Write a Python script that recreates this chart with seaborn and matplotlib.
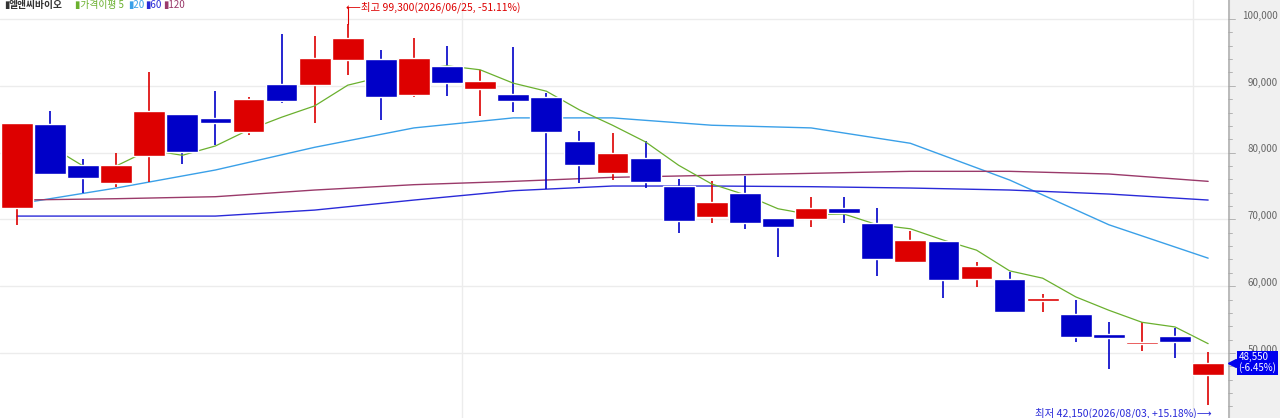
import numpy as np
import pandas as pd
import matplotlib
matplotlib.use('Agg')
import matplotlib.pyplot as plt
import seaborn as sns

# daily candles
opens = [71700, 84300, 78100, 75400, 79500, 85800, 85200, 83100, 90300, 90100,
         93900, 94000, 88600, 93000, 89500, 88800, 88300, 81700, 77000, 79200,
         75000, 70400, 74000, 70200, 70100, 71700, 69500, 63600, 66800, 61100,
         61100, 57800, 55800, 52800, 51400, 52500, 46700]
closes = [84400, 76800, 76200, 78100, 86200, 80100, 84500, 88000, 87700, 94100,
          97200, 88300, 94200, 90400, 90700, 87700, 83100, 78100, 80000, 75600,
          69800, 72600, 69500, 68900, 71700, 71000, 64100, 66900, 60900, 63000,
          56100, 58200, 52400, 52200, 51600, 51700, 48550]
highs = [84400, 86200, 79000, 79900, 92100, 85800, 89200, 88300, 97800, 97400,
         99300, 95400, 97200, 96000, 92400, 95800, 88900, 83200, 82900, 81700,
         76000, 75700, 76500, 70200, 73300, 73300, 71700, 68300, 66800, 63600,
         62100, 58800, 57900, 54700, 54700, 53700, 50200]
lows = [69200, 76600, 74000, 74900, 75600, 78300, 81100, 82600, 87400, 84400,
        91600, 84900, 88300, 88500, 85500, 86100, 74500, 75400, 75900, 74700,
        68000, 69500, 68600, 64400, 68900, 69500, 61500, 63600, 58200, 59900,
        56000, 56100, 51600, 47600, 50300, 49300, 42150]

ma5 = [81300, 81000, 78000, 78000, 80400, 79600, 81000, 83400, 85300, 87000,
       90100, 91300, 92400, 93000, 92400, 90400, 89200, 86400, 84100, 81600,
       78100, 75300, 73700, 71600, 70700, 70800, 69200, 68600, 66900, 65400,
       62300, 61200, 58400, 56400, 54600, 53900, 51400]
ma_idx = [0, 3, 6, 9, 12, 15, 18, 21, 24, 27, 30, 33, 36]
ma20 = [72300, 74700, 77400, 80800, 83700, 85200, 85200, 84100, 83700, 81400, 75900, 69200, 64200]
ma60 = [70500, 70500, 70500, 71400, 72900, 74300, 75000, 75000, 74900, 74700, 74400, 73800, 72900]
ma120 = [72900, 73100, 73400, 74400, 75200, 75700, 76300, 76600, 76900, 77200, 77200, 76800, 75700]

y_ticks = [50000, 60000, 70000, 80000, 90000, 100000]

UP = '#dd0000'
DOWN = '#0000c8'

sns.set_theme(style='white')
plt.rcParams['font.family'] = ['Noto Sans CJK KR', 'DejaVu Sans']

fig = plt.figure(figsize=(12.8, 4.18), dpi=100)
fig.patch.set_facecolor('white')
ax = fig.add_axes([0, 0, 1228 / 1280, 1])
ax.set_xlim(-0.51, 36.6)
ax.set_ylim(40270, 102850)
for s in ax.spines.values():
    s.set_visible(False)
ax.set_xticks([])
ax.set_yticks([])
for t in y_ticks:
    ax.axhline(t, color='#ececec', lw=1, zorder=0)
ax.axvline(13.45, color='#ececec', lw=1, zorder=0)
ax.axvline(35.53, color='#ececec', lw=1, zorder=0)

# moving averages
df5 = pd.DataFrame({'x': np.arange(len(ma5)), 'y': ma5})
sns.lineplot(data=df5, x='x', y='y', ax=ax, color='#6ab02e', lw=0.9, zorder=3)
for vals, col in [(ma20, '#3aa0e8'), (ma60, '#2a2ad8'), (ma120, '#9a3a6a')]:
    sns.lineplot(x=ma_idx, y=vals, ax=ax, color=col, lw=1.0, zorder=1)
ax.set_xlabel('')
ax.set_ylabel('')

# candles
for i in range(len(opens)):
    c = UP if closes[i] >= opens[i] else DOWN
    ax.vlines(i, lows[i], highs[i], color=c, lw=1.2, zorder=2)
    lo, hi = sorted([opens[i], closes[i]])
    ax.bar(i, max(hi - lo, 250), bottom=lo, width=0.96, color=c, zorder=4)

# high / low annotations
ax.plot([10, 10], [99300, 101800], color=UP, lw=0.8)
ax.text(9.95, 101800, '⟵최고 99,300(2026/06/25, -51.11%)', color=UP, fontsize=7.5,
        va='center', ha='left')
ax.text(36.1, 41000, '최저 42,150(2026/08/03, +15.18%)⟶', color='#2a2ad8', fontsize=7.5,
        va='center', ha='right')

# legend line at top
W = 1280
legend = [(4, '▮', '#333333'), (9, '엘앤씨바이오', '#333333'), (75, '▮가격이평 5', '#6ab02e'),
          (128, '▮20', '#3aa0e8'), (145, '▮60', '#2a2ad8'), (163, '▮120', '#9a3a6a')]
for px, txt, col in legend:
    fig.text(px / W, 0.987, txt, color=col, fontsize=7, va='center',
             weight='bold' if txt == '엘앤씨바이오' else 'normal')

# right price axis panel
rax = fig.add_axes([1228 / 1280, 0, 52 / 1280, 1])
rax.set_facecolor('#f0f0f0')
rax.set_xlim(0, 1)
rax.set_ylim(ax.get_ylim())
rax.set_xticks([])
rax.set_yticks([])
for s in rax.spines.values():
    s.set_visible(False)
rax.axvline(0.01, color='#bbbbbb', lw=1.5)
for t in np.arange(42000, 102000, 2000):
    rax.plot([0, 0.08 if t % 10000 else 0.14], [t, t], color='#aaaaaa', lw=0.6)
for t in y_ticks:
    rax.text(0.95, t + 500, f'{t:,}', ha='right', va='center', fontsize=7, color='#666666')
rax.plot(0.07, 48550, marker='<', color='#0000ee', ms=6)
rax.text(0.2, 48550, '48,550\n(-6.45%)', ha='left', va='center', fontsize=7, color='white',
         linespacing=1.0, bbox=dict(boxstyle='square,pad=0.15', fc='#0000ee', ec='none'))

fig.savefig('out.png', dpi=100)
